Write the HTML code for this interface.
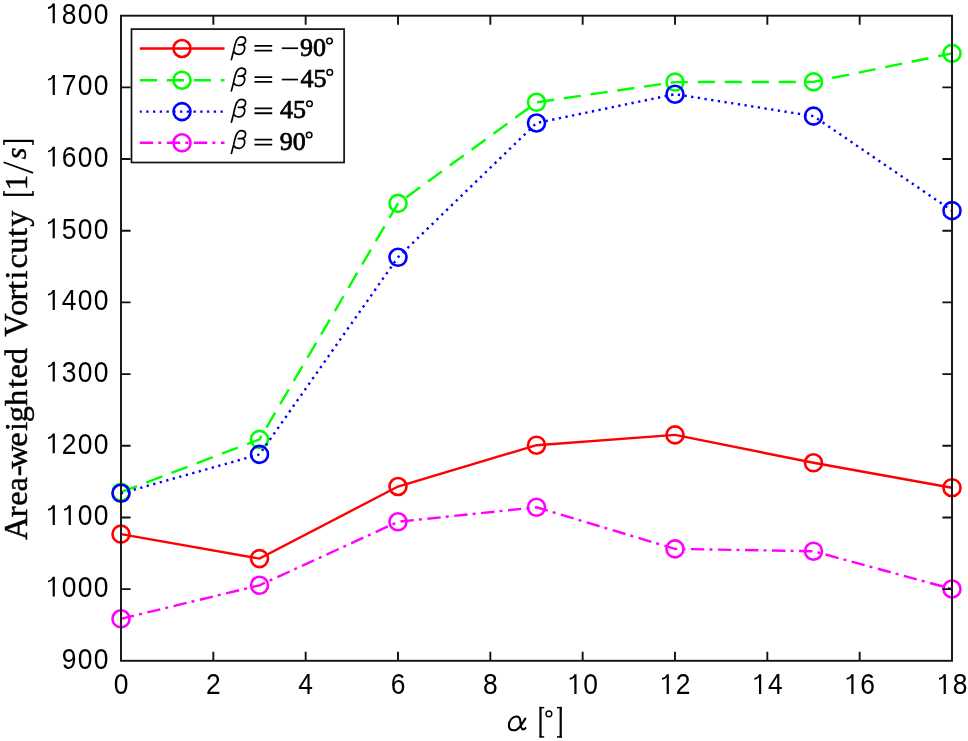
<!DOCTYPE html>
<html><head><meta charset="utf-8"><title>Area-weighted Vorticity</title>
<style>html,body{margin:0;padding:0;background:#fff;}svg{display:block;font-family:"Liberation Sans",sans-serif;will-change:transform;}</style>
</head><body>
<svg width="968" height="741" viewBox="0 0 968 741">
<polyline points="121,534.1 259.5,558.6 398,486.5 536.5,445.2 675,434.9 813.5,462.8 952,487.7" fill="none" stroke="#ff0000" stroke-width="2.4"/>
<circle cx="121" cy="534.1" r="8.5" fill="none" stroke="#ff0000" stroke-width="2.6"/>
<circle cx="259.5" cy="558.6" r="8.5" fill="none" stroke="#ff0000" stroke-width="2.6"/>
<circle cx="398" cy="486.5" r="8.5" fill="none" stroke="#ff0000" stroke-width="2.6"/>
<circle cx="536.5" cy="445.2" r="8.5" fill="none" stroke="#ff0000" stroke-width="2.6"/>
<circle cx="675" cy="434.9" r="8.5" fill="none" stroke="#ff0000" stroke-width="2.6"/>
<circle cx="813.5" cy="462.8" r="8.5" fill="none" stroke="#ff0000" stroke-width="2.6"/>
<circle cx="952" cy="487.7" r="8.5" fill="none" stroke="#ff0000" stroke-width="2.6"/>
<polyline points="121,492.2 259.5,439.4 398,203.4 536.5,102.3 675,82.1 813.5,81.9 952,53.4" fill="none" stroke="#00ff00" stroke-width="2.4" stroke-dasharray="17.2 9.8"/>
<circle cx="121" cy="492.2" r="8.5" fill="none" stroke="#00ff00" stroke-width="2.6"/>
<circle cx="259.5" cy="439.4" r="8.5" fill="none" stroke="#00ff00" stroke-width="2.6"/>
<circle cx="398" cy="203.4" r="8.5" fill="none" stroke="#00ff00" stroke-width="2.6"/>
<circle cx="536.5" cy="102.3" r="8.5" fill="none" stroke="#00ff00" stroke-width="2.6"/>
<circle cx="675" cy="82.1" r="8.5" fill="none" stroke="#00ff00" stroke-width="2.6"/>
<circle cx="813.5" cy="81.9" r="8.5" fill="none" stroke="#00ff00" stroke-width="2.6"/>
<circle cx="952" cy="53.4" r="8.5" fill="none" stroke="#00ff00" stroke-width="2.6"/>
<polyline points="121,493.3 259.5,454.4 398,257.3 536.5,123 675,94.2 813.5,116.1 952,210.65" fill="none" stroke="#0000ff" stroke-width="2.4" stroke-dasharray="2.3 4.45" stroke-dashoffset="0.3"/>
<circle cx="121" cy="493.3" r="8.5" fill="none" stroke="#0000ff" stroke-width="2.6"/>
<circle cx="259.5" cy="454.4" r="8.5" fill="none" stroke="#0000ff" stroke-width="2.6"/>
<circle cx="398" cy="257.3" r="8.5" fill="none" stroke="#0000ff" stroke-width="2.6"/>
<circle cx="536.5" cy="123" r="8.5" fill="none" stroke="#0000ff" stroke-width="2.6"/>
<circle cx="675" cy="94.2" r="8.5" fill="none" stroke="#0000ff" stroke-width="2.6"/>
<circle cx="813.5" cy="116.1" r="8.5" fill="none" stroke="#0000ff" stroke-width="2.6"/>
<circle cx="952" cy="210.65" r="8.5" fill="none" stroke="#0000ff" stroke-width="2.6"/>
<polyline points="121,618.8 259.5,585.3 398,521.8 536.5,507.3 675,548.9 813.5,551.2 952,589" fill="none" stroke="#ff00ff" stroke-width="2.4" stroke-dasharray="13.4 5.1 3 5.53"/>
<circle cx="121" cy="618.8" r="8.5" fill="none" stroke="#ff00ff" stroke-width="2.6"/>
<circle cx="259.5" cy="585.3" r="8.5" fill="none" stroke="#ff00ff" stroke-width="2.6"/>
<circle cx="398" cy="521.8" r="8.5" fill="none" stroke="#ff00ff" stroke-width="2.6"/>
<circle cx="536.5" cy="507.3" r="8.5" fill="none" stroke="#ff00ff" stroke-width="2.6"/>
<circle cx="675" cy="548.9" r="8.5" fill="none" stroke="#ff00ff" stroke-width="2.6"/>
<circle cx="813.5" cy="551.2" r="8.5" fill="none" stroke="#ff00ff" stroke-width="2.6"/>
<circle cx="952" cy="589" r="8.5" fill="none" stroke="#ff00ff" stroke-width="2.6"/>
<g stroke="#111" stroke-width="1.9" fill="none">
<rect x="121" y="15.7" width="831" height="645.1"/>
<path d="M213.33 660.8V651.7M213.33 15.7V24.8M305.67 660.8V651.7M305.67 15.7V24.8M398 660.8V651.7M398 15.7V24.8M490.33 660.8V651.7M490.33 15.7V24.8M582.67 660.8V651.7M582.67 15.7V24.8M675 660.8V651.7M675 15.7V24.8M767.33 660.8V651.7M767.33 15.7V24.8M859.67 660.8V651.7M859.67 15.7V24.8M121 87.38H130.6M952 87.38H942.4M121 159.06H130.6M952 159.06H942.4M121 230.73H130.6M952 230.73H942.4M121 302.41H130.6M952 302.41H942.4M121 374.09H130.6M952 374.09H942.4M121 445.77H130.6M952 445.77H942.4M121 517.44H130.6M952 517.44H942.4M121 589.12H130.6M952 589.12H942.4"/>
</g>
<g font-family="Liberation Sans, sans-serif" font-size="30.3" fill="#000">
<text transform="translate(113.65 694.3) scale(0.872 1)">0</text>
<text transform="translate(205.99 694.3) scale(0.872 1)">2</text>
<text transform="translate(298.32 694.3) scale(0.872 1)">4</text>
<text transform="translate(390.65 694.3) scale(0.872 1)">6</text>
<text transform="translate(482.99 694.3) scale(0.872 1)">8</text>
<text transform="translate(583.32 694.3) scale(0.872 1)">0</text>
<text transform="translate(675.65 694.3) scale(0.872 1)">2</text>
<text transform="translate(767.99 694.3) scale(0.872 1)">4</text>
<text transform="translate(860.32 694.3) scale(0.872 1)">6</text>
<text transform="translate(952.65 694.3) scale(0.872 1)">8</text>
<text transform="translate(61.65 23.5) scale(0.872 1)">8</text>
<text transform="translate(77.65 23.5) scale(0.872 1)">0</text>
<text transform="translate(93.65 23.5) scale(0.872 1)">0</text>
<text transform="translate(61.65 95.18) scale(0.872 1)">7</text>
<text transform="translate(77.65 95.18) scale(0.872 1)">0</text>
<text transform="translate(93.65 95.18) scale(0.872 1)">0</text>
<text transform="translate(61.65 166.86) scale(0.872 1)">6</text>
<text transform="translate(77.65 166.86) scale(0.872 1)">0</text>
<text transform="translate(93.65 166.86) scale(0.872 1)">0</text>
<text transform="translate(61.65 238.53) scale(0.872 1)">5</text>
<text transform="translate(77.65 238.53) scale(0.872 1)">0</text>
<text transform="translate(93.65 238.53) scale(0.872 1)">0</text>
<text transform="translate(61.65 310.21) scale(0.872 1)">4</text>
<text transform="translate(77.65 310.21) scale(0.872 1)">0</text>
<text transform="translate(93.65 310.21) scale(0.872 1)">0</text>
<text transform="translate(61.65 381.89) scale(0.872 1)">3</text>
<text transform="translate(77.65 381.89) scale(0.872 1)">0</text>
<text transform="translate(93.65 381.89) scale(0.872 1)">0</text>
<text transform="translate(61.65 453.57) scale(0.872 1)">2</text>
<text transform="translate(77.65 453.57) scale(0.872 1)">0</text>
<text transform="translate(93.65 453.57) scale(0.872 1)">0</text>
<text transform="translate(77.65 525.24) scale(0.872 1)">0</text>
<text transform="translate(93.65 525.24) scale(0.872 1)">0</text>
<text transform="translate(61.65 596.92) scale(0.872 1)">0</text>
<text transform="translate(77.65 596.92) scale(0.872 1)">0</text>
<text transform="translate(93.65 596.92) scale(0.872 1)">0</text>
<text transform="translate(61.65 668.6) scale(0.872 1)">9</text>
<text transform="translate(77.65 668.6) scale(0.872 1)">0</text>
<text transform="translate(93.65 668.6) scale(0.872 1)">0</text>
</g>
<path d="M575.42 694V674.2M667.75 694V674.2M760.08 694V674.2M852.42 694V674.2M944.75 694V674.2M53.75 23.2V3.4M53.75 94.88V75.08M53.75 166.56V146.76M53.75 238.23V218.43M53.75 309.91V290.11M53.75 381.59V361.79M53.75 453.27V433.47M53.75 524.94V505.14M69.75 524.94V505.14M53.75 596.62V576.82" stroke="#000" stroke-width="2.2" fill="none"/>
<path d="M575.27 674.8Q573.27 678.4 569.67 678.9M667.6 674.8Q665.6 678.4 662 678.9M759.93 674.8Q757.93 678.4 754.33 678.9M852.27 674.8Q850.27 678.4 846.67 678.9M944.6 674.8Q942.6 678.4 939 678.9M53.6 4Q51.6 7.6 48 8.1M53.6 75.68Q51.6 79.28 48 79.78M53.6 147.36Q51.6 150.96 48 151.46M53.6 219.03Q51.6 222.63 48 223.13M53.6 290.71Q51.6 294.31 48 294.81M53.6 362.39Q51.6 365.99 48 366.49M53.6 434.07Q51.6 437.67 48 438.17M53.6 505.74Q51.6 509.34 48 509.84M69.6 505.74Q67.6 509.34 64 509.84M53.6 577.42Q51.6 581.02 48 581.52" stroke="#000" stroke-width="1.6" fill="none"/>
<text transform="translate(26.7 0) rotate(-90)" x="-540.12 -517.24 -505.63 -491.51 -476.23 -468.48 -446.73 -430.95 -422.16 -405.92 -387.88 -378.48 -364.36 -342.5 -336.73 -316.12 -300.44 -290.08 -279.45 -268.58 -253.86 -236.93 -226.71" y="0" font-family="Liberation Serif, serif" font-size="32.5" fill="#000" stroke="#000" stroke-width="0.45" xml:space="preserve"> rea-weighted  orticuty</text>
<text transform="translate(26.7 0) rotate(-90) scale(1 1.05)" x="-540.12" y="0" font-family="Liberation Serif, serif" font-size="32.5" fill="#000" stroke="#000" stroke-width="0.45">A</text>
<text transform="translate(26.7 0) rotate(-90) scale(1 1.05)" x="-336.73" y="0" font-family="Liberation Serif, serif" font-size="32.5" fill="#000" stroke="#000" stroke-width="0.45">V</text>
<g fill="#000">
<rect x="3.2" y="193.7" width="30.5" height="2.2"/><rect x="3.2" y="191" width="1.5" height="4"/><rect x="32.2" y="191" width="1.5" height="4"/>
<rect x="3.2" y="139.8" width="30.5" height="2.2"/><rect x="3.2" y="141" width="1.5" height="4"/><rect x="32.2" y="141" width="1.5" height="4"/>
</g>
<path d="M3.6 162.3L33.1 172.9" stroke="#000" stroke-width="1.7" fill="none"/>
<text transform="translate(26.5 190.2) rotate(-90)" font-family="Liberation Serif, serif" font-size="31" fill="#000" stroke="#000" stroke-width="0.45">1</text>
<text transform="translate(26.3 159.2) rotate(-90)" font-family="Liberation Serif, serif" font-style="italic" font-size="30" fill="#000" stroke="#000" stroke-width="0.45">s</text>
<path d="M525.3 718.6C523.5 721.5 521.5 725 519.8 726.8C518 729 516 730.3 513.6 730.3C510.6 730.3 508.9 728.3 508.9 725.2C508.9 720.5 512.5 716.5 516.5 716.5C519.2 716.5 520.2 718.5 520.4 721.5C520.6 725 520.8 729.4 523.1 729.4C524.2 729.4 525 728.9 525.5 728.2" fill="none" stroke="#000" stroke-width="2.1" stroke-linecap="round"/>
<g fill="#000">
<rect x="539.4" y="706.9" width="2.2" height="30.7"/><rect x="539.4" y="706.9" width="4.8" height="1.5"/><rect x="539.4" y="736.1" width="4.8" height="1.5"/>
<rect x="559.6" y="706.9" width="2.2" height="30.7"/><rect x="557" y="706.9" width="4.8" height="1.5"/><rect x="557" y="736.1" width="4.8" height="1.5"/>
</g>
<circle cx="548.9" cy="713.85" r="2.9" fill="none" stroke="#000" stroke-width="1.4"/>
<rect x="131.5" y="29.1" width="212.6" height="133.4" fill="#fff" stroke="#111" stroke-width="1.7"/>
<line x1="139.8" y1="48.5" x2="224.5" y2="48.5" stroke="#ff0000" stroke-width="2.4"/>
<circle cx="182" cy="48.5" r="8.5" fill="none" stroke="#ff0000" stroke-width="2.6"/>
<path transform="translate(0 0)" d="M231.4 59.6L233.6 51C234.6 46 235.6 41 237.5 39C238.5 37.5 239.6 36.8 241 36.8C243.5 36.8 245.6 37.8 245.6 40.3C245.6 42.5 244 44.3 241.5 44.6L238.3 44.8M241.5 44.6C244.2 45 244.9 46.8 244.7 48.6C244.4 51.5 242.2 54.4 239.2 54.4C236.8 54.4 234.8 53.4 233.8 51.8" fill="none" stroke="#000" stroke-width="1.7" stroke-linecap="round" stroke-linejoin="round"/>
<path d="M254.5 45.8H272.2M254.5 50.65H272.2" stroke="#000" stroke-width="1.8"/>
<path d="M281.8 48.25H298" stroke="#000" stroke-width="1.7"/>
<text x="300.06" y="55.6" font-family="Liberation Serif, serif" font-size="26.0" fill="#000" stroke="#000" stroke-width="0.75">90</text>
<circle cx="329.46" cy="41.1" r="2.8" fill="none" stroke="#000" stroke-width="1.5"/>
<line x1="139.8" y1="80.2" x2="224.5" y2="80.2" stroke="#00ff00" stroke-width="2.4" stroke-dasharray="17.2 9.8"/>
<circle cx="182" cy="80.2" r="8.5" fill="none" stroke="#00ff00" stroke-width="2.6"/>
<path transform="translate(0 31.3)" d="M231.4 59.6L233.6 51C234.6 46 235.6 41 237.5 39C238.5 37.5 239.6 36.8 241 36.8C243.5 36.8 245.6 37.8 245.6 40.3C245.6 42.5 244 44.3 241.5 44.6L238.3 44.8M241.5 44.6C244.2 45 244.9 46.8 244.7 48.6C244.4 51.5 242.2 54.4 239.2 54.4C236.8 54.4 234.8 53.4 233.8 51.8" fill="none" stroke="#000" stroke-width="1.7" stroke-linecap="round" stroke-linejoin="round"/>
<path d="M254.5 77.1H272.2M254.5 81.95H272.2" stroke="#000" stroke-width="1.8"/>
<path d="M281.8 79.55H298" stroke="#000" stroke-width="1.7"/>
<text x="300.39" y="86.9" font-family="Liberation Serif, serif" font-size="26.0" fill="#000" stroke="#000" stroke-width="0.75">45</text>
<circle cx="329.79" cy="72.4" r="2.8" fill="none" stroke="#000" stroke-width="1.5"/>
<line x1="139.8" y1="111.6" x2="224.5" y2="111.6" stroke="#0000ff" stroke-width="2.4" stroke-dasharray="2.3 4.45" stroke-dashoffset="0.3"/>
<circle cx="182" cy="111.6" r="8.5" fill="none" stroke="#0000ff" stroke-width="2.6"/>
<path transform="translate(0 62.6)" d="M231.4 59.6L233.6 51C234.6 46 235.6 41 237.5 39C238.5 37.5 239.6 36.8 241 36.8C243.5 36.8 245.6 37.8 245.6 40.3C245.6 42.5 244 44.3 241.5 44.6L238.3 44.8M241.5 44.6C244.2 45 244.9 46.8 244.7 48.6C244.4 51.5 242.2 54.4 239.2 54.4C236.8 54.4 234.8 53.4 233.8 51.8" fill="none" stroke="#000" stroke-width="1.7" stroke-linecap="round" stroke-linejoin="round"/>
<path d="M254.5 108.4H272.2M254.5 113.25H272.2" stroke="#000" stroke-width="1.8"/>
<text x="280.09" y="118.2" font-family="Liberation Serif, serif" font-size="26.0" fill="#000" stroke="#000" stroke-width="0.75">45</text>
<circle cx="309.49" cy="103.7" r="2.8" fill="none" stroke="#000" stroke-width="1.5"/>
<line x1="139.8" y1="142.8" x2="224.5" y2="142.8" stroke="#ff00ff" stroke-width="2.4" stroke-dasharray="13.4 5.1 3 5.53"/>
<circle cx="182" cy="142.8" r="8.5" fill="none" stroke="#ff00ff" stroke-width="2.6"/>
<path transform="translate(0 93.9)" d="M231.4 59.6L233.6 51C234.6 46 235.6 41 237.5 39C238.5 37.5 239.6 36.8 241 36.8C243.5 36.8 245.6 37.8 245.6 40.3C245.6 42.5 244 44.3 241.5 44.6L238.3 44.8M241.5 44.6C244.2 45 244.9 46.8 244.7 48.6C244.4 51.5 242.2 54.4 239.2 54.4C236.8 54.4 234.8 53.4 233.8 51.8" fill="none" stroke="#000" stroke-width="1.7" stroke-linecap="round" stroke-linejoin="round"/>
<path d="M254.5 139.7H272.2M254.5 144.55H272.2" stroke="#000" stroke-width="1.8"/>
<text x="279.76" y="149.5" font-family="Liberation Serif, serif" font-size="26.0" fill="#000" stroke="#000" stroke-width="0.75">90</text>
<circle cx="309.16" cy="135" r="2.8" fill="none" stroke="#000" stroke-width="1.5"/>
</svg>
</body></html>
